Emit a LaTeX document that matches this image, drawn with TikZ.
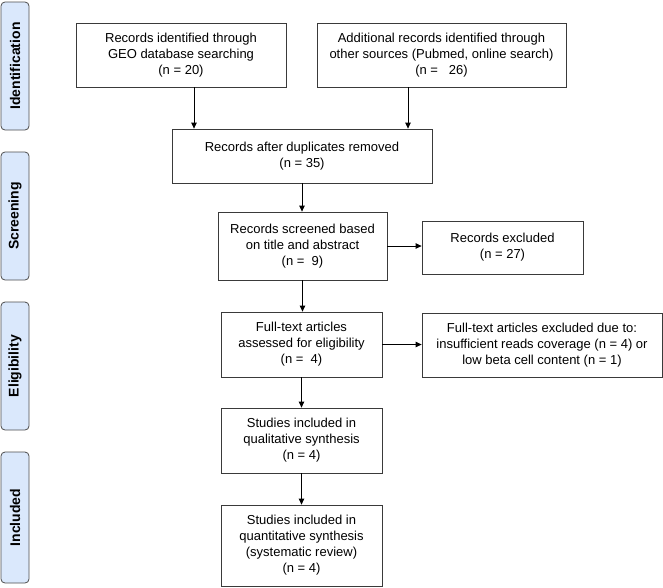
\documentclass[tikz,border=0pt]{standalone}
\usepackage{fontspec}
\setmainfont{Liberation Sans}
\usetikzlibrary{arrows.meta}
\definecolor{lblfill}{HTML}{DAE8FC}
\definecolor{lbldraw}{HTML}{4D4D4D}
\definecolor{boxdraw}{HTML}{3A3A3A}
\begin{document}
\begin{tikzpicture}[x=1pt,y=-1pt,
  box/.style={draw=boxdraw,line width=0.8pt,fill=white,align=center,inner sep=2pt,
    font=\fontsize{13}{16}\selectfont},
  side/.style={draw=lbldraw,fill=lblfill,line width=0.8pt,rounded corners=4pt,
    minimum width=28pt,rotate=90,font=\fontsize{14}{16}\selectfont\bfseries,inner sep=0pt},
  arr/.style={line width=0.8pt,-{Triangle[length=6pt,width=5.5pt]}}]
\useasboundingbox (0,0) rectangle (663,587);
% side labels
\node[side,minimum height=28pt,minimum width=128pt] (sid) at (15,66) {Identification};
\node[side,minimum height=28pt,minimum width=128pt] (ssc) at (15,216) {Screening};
\node[side,minimum height=28pt,minimum width=128pt] (sel) at (15,366) {Eligibility};
\node[side,minimum height=28pt,minimum width=131pt] (sin) at (15,517.5) {Included};
% boxes
\node[box,minimum width=210pt,minimum height=64pt] (b1) at (181,55)
  {Records identified through\\GEO database searching\\(n = 20)};
\node[box,minimum width=249pt,minimum height=64pt] (b2) at (441.5,55)
  {Additional records identified through\\other sources (Pubmed, online search)\\(n =\ \ \ 26)};
\node[box,minimum width=260pt,minimum height=54pt] (dup) at (302,156)
  {Records after duplicates removed\\(n = 35)};
\node[box,minimum width=169pt,minimum height=68pt] (scr) at (302.5,246)
  {Records screened based\\on title and abstract\\(n =\ \ 9)};
\node[box,minimum width=161pt,minimum height=53pt] (exc) at (502.5,247.5)
  {Records excluded\\(n = 27)};
\node[box,minimum width=161pt,minimum height=65pt] (ft) at (301.5,344.5)
  {Full-text articles\\assessed for eligibility\\(n =\ \ 4)};
\node[box,minimum width=240pt,minimum height=64pt] (ftx) at (542,345)
  {Full-text articles excluded due to:\\insufficient reads coverage (n = 4) or\\low beta cell content (n = 1)};
\node[box,minimum width=161pt,minimum height=65pt] (qual) at (301.5,440.5)
  {Studies included in\\qualitative synthesis\\(n = 4)};
\node[box,minimum width=161pt,minimum height=81pt] (quan) at (301.5,545.5)
  {Studies included in\\quantitative synthesis\\(systematic review)\\(n = 4)};
% connectors
\draw[arr] ([xshift=13pt]b1.south) -- ([xshift=-108pt]dup.north);
\draw[arr] ([xshift=-33.5pt]b2.south) -- ([xshift=106pt]dup.north);
\draw[arr] (dup.south) -- (scr.north -| dup.south);
\draw[arr] (scr.east) -- (scr.east -| exc.west);
\draw[arr] (scr.south) -- (ft.north -| scr.south);
\draw[arr] (ft.east) -- (ft.east -| ftx.west);
\draw[arr] (ft.south) -- (qual.north);
\draw[arr] (qual.south) -- (quan.north);
\end{tikzpicture}
\end{document}
